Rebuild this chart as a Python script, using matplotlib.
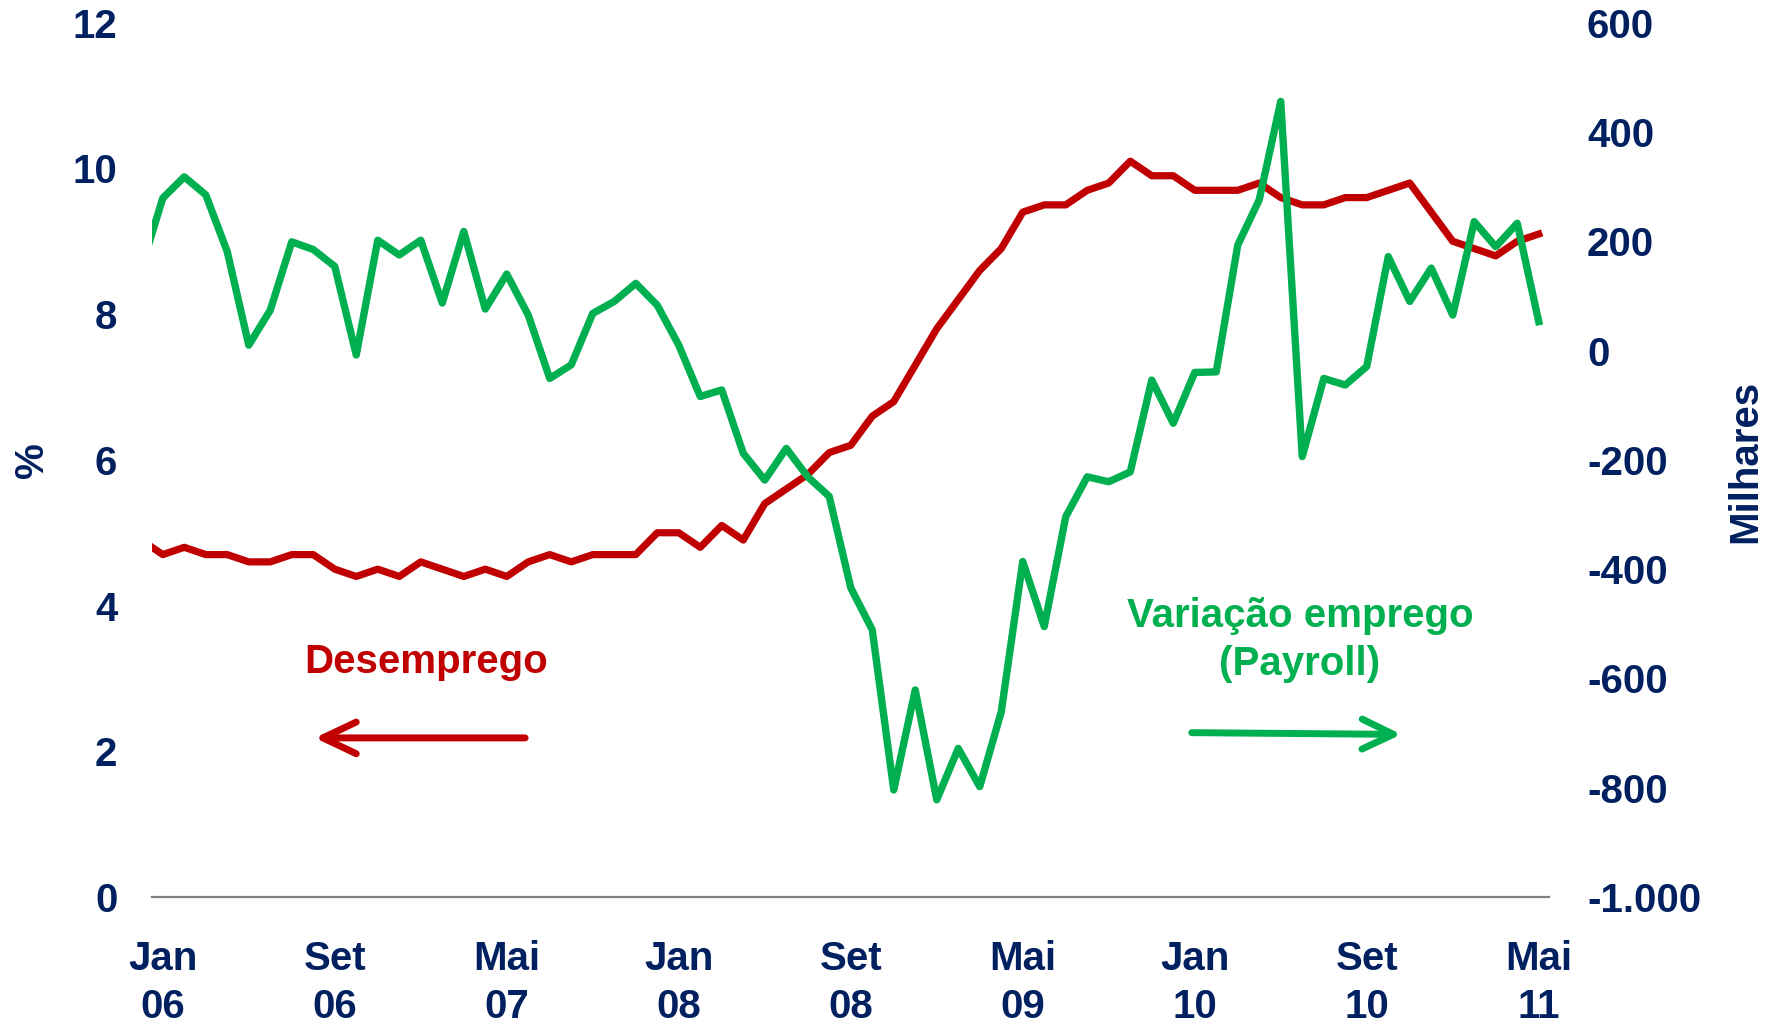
import numpy as np
import matplotlib.pyplot as plt
from matplotlib.ticker import FuncFormatter

# Taxa de desemprego (%) e variacao do payroll (milhares), Dez/05 a Mai/11
# (Dez/05 fica cortado na borda esquerda, como no original)
desemprego = [4.9,
              4.7, 4.8, 4.7, 4.7, 4.6, 4.6, 4.7, 4.7, 4.5, 4.4, 4.5, 4.4,
              4.6, 4.5, 4.4, 4.5, 4.4, 4.6, 4.7, 4.6, 4.7, 4.7, 4.7, 5.0,
              5.0, 4.8, 5.1, 4.9, 5.4, 5.6, 5.8, 6.1, 6.2, 6.6, 6.8, 7.3,
              7.8, 8.2, 8.6, 8.9, 9.4, 9.5, 9.5, 9.7, 9.8, 10.1, 9.9, 9.9,
              9.7, 9.7, 9.7, 9.8, 9.6, 9.5, 9.5, 9.6, 9.6, 9.7, 9.8, 9.4,
              9.0, 8.9, 8.8, 9.0, 9.1]
payroll = [150,
           279, 318, 285, 181, 10, 74, 199, 185, 154, -8, 202, 175,
           202, 87, 218, 76, 140, 65, -51, -26, 68, 90, 123, 83,
           10, -84, -72, -188, -237, -179, -231, -267, -434, -511, -804, -621,
           -822, -728, -798, -661, -386, -505, -304, -231, -240, -222, -54, -133,
           -40, -39, 193, 276, 456, -194, -51, -63, -29, 172, 90, 151,
           65, 236, 190, 233, 53]
x = np.arange(-1, len(desemprego) - 1)

tick_labels = ["Jan\n06", "Set\n06", "Mai\n07", "Jan\n08", "Set\n08",
               "Mai\n09", "Jan\n10", "Set\n10", "Mai\n11"]
tick_pos = np.arange(len(tick_labels)) * 8

navy = "#002060"
red = "#C00000"
green = "#00B050"

plt.rcParams["font.family"] = ["Liberation Sans", "DejaVu Sans"]
plt.rcParams["font.weight"] = "bold"
fs = 29

fig = plt.figure(figsize=(17.8, 10.24), dpi=100)
ax = fig.add_axes([0.0854, 0.124, 0.7851, 0.8538])
ax2 = ax.twinx()

ax.plot(x, desemprego, color=red, lw=5.2, solid_joinstyle="round")
ax2.plot(x, payroll, color=green, lw=5.3, solid_joinstyle="round")

ax.set_xlim(-0.5, 64.5)
ax.set_ylim(0, 12)
ax2.set_ylim(-1000, 600)
ax.set_yticks(range(0, 13, 2))
ax2.set_yticks(range(-1000, 601, 200))
ax2.yaxis.set_major_formatter(FuncFormatter(lambda v, p: f"{v:,.0f}".replace(",", ".")))
ax.set_xticks(tick_pos)
ax.set_xticklabels(tick_labels, linespacing=1.32)

for a in (ax, ax2):
    for s in a.spines.values():
        s.set_visible(False)
ax.spines["bottom"].set_visible(True)
ax.spines["bottom"].set_color("#808080")
ax.spines["bottom"].set_linewidth(1.6)

ax.tick_params(axis="y", length=0, pad=25, labelsize=fs, labelcolor=navy)
ax.tick_params(axis="x", length=0, pad=31, labelsize=fs, labelcolor=navy)
ax2.tick_params(axis="y", length=0, pad=27, labelsize=fs, labelcolor=navy)

fig.text(32 / 1780, 1 - 460 / 1024, "%", rotation=90, ha="center", va="center",
         fontsize=fs, color=navy, fontweight="bold")
fig.text(1745 / 1780, 1 - 461 / 1024, "Milhares", rotation=90, ha="center", va="center",
         fontsize=fs, color=navy, fontweight="bold")

# anotacoes
ax.text(0.196, 0.256, "Desemprego", transform=ax.transAxes, ha="center",
        va="baseline", fontsize=fs, color=red, fontweight="bold")
ax.annotate("", xy=(0.1165, 0.182), xytext=(0.267, 0.182), xycoords="axes fraction",
            arrowprops=dict(arrowstyle="->,head_length=0.8,head_width=0.38",
                            mutation_scale=30, lw=5, color=red,
                            shrinkA=0, shrinkB=0, capstyle="round"))
ax.text(0.8215, 0.309, "Variação emprego", transform=ax.transAxes, ha="center",
        va="baseline", fontsize=fs, color=green, fontweight="bold")
ax.text(0.8215, 0.254, "(Payroll)", transform=ax.transAxes, ha="center",
        va="baseline", fontsize=fs, color=green, fontweight="bold")
ax.annotate("", xy=(0.894, 0.186), xytext=(0.744, 0.188), xycoords="axes fraction",
            arrowprops=dict(arrowstyle="->,head_length=0.75,head_width=0.36",
                            mutation_scale=30, lw=5, color=green,
                            shrinkA=0, shrinkB=0))

fig.savefig("out.png", dpi=100, facecolor="white")
